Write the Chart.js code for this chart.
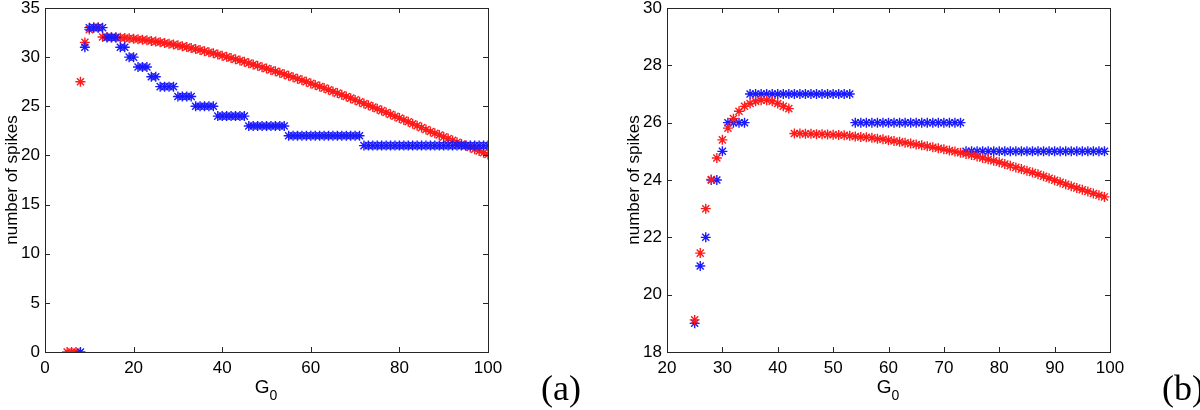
<!DOCTYPE html>
<html>
<head>
<meta charset="utf-8">
<script src="https://cdn.jsdelivr.net/npm/chart.js@4.4.1/dist/chart.umd.min.js"></script>
<style>
  body { margin: 0; background: #fff; width: 1200px; height: 410px; overflow: hidden; position: relative; }
  .panel { position: absolute; top: 0; }
  .tag { position: absolute; top: 370px; font-family: "Liberation Serif", "DejaVu Serif", serif; font-size: 36px; line-height: 36px; color: #000; }
</style>
</head>
<body>
<canvas id="left-chart" class="panel" style="left:0px" width="600" height="410"></canvas>
<canvas id="right-chart" class="panel" style="left:600px" width="600" height="410"></canvas>
<div class="tag" style="left:541px">(a)</div>
<div class="tag" style="left:1162px">(b)</div>
<script>
// panel (a)
var leftG0 = [5, 6, 7, 8, 9, 10, 11, 12, 13, 14,
  15, 16, 17, 18, 19, 20, 21, 22, 23, 24,
  25, 26, 27, 28, 29, 30, 31, 32, 33, 34,
  35, 36, 37, 38, 39, 40, 41, 42, 43, 44,
  45, 46, 47, 48, 49, 50, 51, 52, 53, 54,
  55, 56, 57, 58, 59, 60, 61, 62, 63, 64,
  65, 66, 67, 68, 69, 70, 71, 72, 73, 74,
  75, 76, 77, 78, 79, 80, 81, 82, 83, 84,
  85, 86, 87, 88, 89, 90, 91, 92, 93, 94,
  95, 96, 97, 98, 99, 100];
var leftBlue = [null, null, null, 0, 31, 33, 33, 33, 33, 32,
  32, 32, 31, 31, 30, 30, 29, 29, 29, 28,
  28, 27, 27, 27, 27, 26, 26, 26, 26, 25,
  25, 25, 25, 25, 24, 24, 24, 24, 24, 24,
  24, 23, 23, 23, 23, 23, 23, 23, 23, 23,
  22, 22, 22, 22, 22, 22, 22, 22, 22, 22,
  22, 22, 22, 22, 22, 22, 22, 21, 21, 21,
  21, 21, 21, 21, 21, 21, 21, 21, 21, 21,
  21, 21, 21, 21, 21, 21, 21, 21, 21, 21,
  21, 21, 21, 21, 21, 21];
var leftRed = [0, 0, 0, 27.5, 31.5, 32.8, 33.05, 33.05, 32.05, 32.05,
  32.03, 32.01, 31.98, 31.95, 31.91, 31.87, 31.82, 31.77, 31.71, 31.65,
  31.58, 31.51, 31.44, 31.36, 31.28, 31.2, 31.11, 31.02, 30.92, 30.82,
  30.72, 30.61, 30.5, 30.39, 30.27, 30.15, 30.03, 29.91, 29.78, 29.65,
  29.52, 29.39, 29.26, 29.12, 28.98, 28.84, 28.7, 28.56, 28.41, 28.26,
  28.11, 27.96, 27.81, 27.65, 27.49, 27.33, 27.17, 27.01, 26.85, 26.68,
  26.51, 26.34, 26.17, 26.0, 25.83, 25.65, 25.47, 25.29, 25.11, 24.93,
  24.75, 24.56, 24.37, 24.18, 23.99, 23.8, 23.61, 23.42, 23.23, 23.03,
  22.83, 22.63, 22.43, 22.25, 22.07, 21.89, 21.71, 21.53, 21.35, 21.17,
  20.99, 20.81, 20.63, 20.45, 20.27, 20.09];

// panel (b)
var rightG0 = [25, 26, 27, 28, 29, 30, 31, 32, 33, 34,
  35, 36, 37, 38, 39, 40, 41, 42, 43, 44,
  45, 46, 47, 48, 49, 50, 51, 52, 53, 54,
  55, 56, 57, 58, 59, 60, 61, 62, 63, 64,
  65, 66, 67, 68, 69, 70, 71, 72, 73, 74,
  75, 76, 77, 78, 79, 80, 81, 82, 83, 84,
  85, 86, 87, 88, 89, 90, 91, 92, 93, 94,
  95, 96, 97, 98, 99];
var rightBlue = [19, 21, 22, 24, 24, 25, 26, 26, 26, 26,
  27, 27, 27, 27, 27, 27, 27, 27, 27, 27,
  27, 27, 27, 27, 27, 27, 27, 27, 27, 26,
  26, 26, 26, 26, 26, 26, 26, 26, 26, 26,
  26, 26, 26, 26, 26, 26, 26, 26, 26, 25,
  25, 25, 25, 25, 25, 25, 25, 25, 25, 25,
  25, 25, 25, 25, 25, 25, 25, 25, 25, 25,
  25, 25, 25, 25, 25];
var rightRed = [19.12, 21.45, 23.0, 24.02, 24.77, 25.4, 25.81, 26.14, 26.4, 26.57,
  26.67, 26.75, 26.78, 26.78, 26.75, 26.67, 26.57, 26.49, 25.62, 25.62,
  25.61, 25.61, 25.6, 25.6, 25.59, 25.58, 25.57, 25.56, 25.54, 25.52,
  25.5, 25.49, 25.47, 25.44, 25.42, 25.39, 25.36, 25.33, 25.3, 25.27,
  25.24, 25.21, 25.18, 25.14, 25.11, 25.07, 25.03, 24.99, 24.95, 24.91,
  24.87, 24.82, 24.77, 24.72, 24.67, 24.62, 24.56, 24.5, 24.44, 24.38,
  24.32, 24.26, 24.2, 24.13, 24.06, 23.99, 23.92, 23.85, 23.78, 23.72,
  23.66, 23.6, 23.53, 23.47, 23.41];

var yTitle = 'number of spikes';
var xTitleMain = 'G';
var xTitleSub = '0';

var FONT = '"Liberation Sans", Arial, sans-serif';

function points(xs, ys) {
    return xs.map(function (x, i) { return { x: x, y: ys[i] }; });
}

// matlab style box, inward ticks and the G_0 label
var matlabBox = {
    id: 'matlabBox',
    afterDraw: function (chart) {
        var ctx = chart.ctx, a = chart.chartArea;
        var xs = chart.scales.x, ys = chart.scales.y;
        ctx.save();
        ctx.strokeStyle = '#262626';
        ctx.lineWidth = 1;
        ctx.beginPath();
        xs.ticks.forEach(function (t) {
            var px = Math.round(xs.getPixelForValue(t.value)) + 0.5;
            ctx.moveTo(px, a.bottom); ctx.lineTo(px, a.bottom - 5);
            ctx.moveTo(px, a.top); ctx.lineTo(px, a.top + 5);
        });
        ys.ticks.forEach(function (t) {
            var py = Math.round(ys.getPixelForValue(t.value)) + 0.5;
            ctx.moveTo(a.left, py); ctx.lineTo(a.left + 5, py);
            ctx.moveTo(a.right, py); ctx.lineTo(a.right - 5, py);
        });
        ctx.stroke();
        ctx.strokeRect(Math.round(a.left) + 0.5, Math.round(a.top) + 0.5,
            Math.round(a.right - a.left), Math.round(a.bottom - a.top));

        var cx = (a.left + a.right) / 2 + 3;
        ctx.fillStyle = '#000';
        ctx.textBaseline = 'alphabetic';
        ctx.font = '19px ' + FONT;
        ctx.textAlign = 'right';
        ctx.fillText(xTitleMain, cx, 393);
        ctx.font = '14px ' + FONT;
        ctx.textAlign = 'left';
        ctx.fillText(xTitleSub, cx, 400);
        ctx.restore();
    }
};

function makeChart(id, padLeft, padRight, xMin, xMax, xStep, yMin, yMax, yStep, datasets) {
    var ctx = document.getElementById(id).getContext('2d');
    return new Chart(ctx, {
        type: 'scatter',
        data: { datasets: datasets },
        plugins: [matlabBox],
        options: {
            responsive: false,
            animation: false,
            devicePixelRatio: 1,
            events: [],
            layout: { padding: { left: padLeft, right: padRight, top: 8, bottom: 0 } },
            plugins: { legend: { display: false }, tooltip: { enabled: false } },
            scales: {
                x: {
                    type: 'linear',
                    min: xMin,
                    max: xMax,
                    grid: { display: false, drawTicks: false },
                    border: { display: false },
                    ticks: {
                        stepSize: xStep,
                        autoSkip: false,
                        maxRotation: 0,
                        padding: 6,
                        color: '#000',
                        font: { family: FONT, size: 17 }
                    },
                    afterFit: function (s) { s.height = 58; s.paddingLeft = 0; s.paddingRight = 0; }
                },
                y: {
                    type: 'linear',
                    min: yMin,
                    max: yMax,
                    grid: { display: false, drawTicks: false },
                    border: { display: false },
                    ticks: {
                        stepSize: yStep,
                        autoSkip: false,
                        padding: 5,
                        color: '#000',
                        font: { family: FONT, size: 17 }
                    },
                    title: {
                        display: true,
                        text: yTitle,
                        color: '#000',
                        padding: { top: 2, bottom: 0 },
                        font: { family: FONT, size: 17 }
                    },
                    afterFit: function (s) { s.width = 45; s.paddingTop = 0; s.paddingBottom = 0; }
                }
            }
        }
    });
}

var starStyle = { pointStyle: 'star', pointRadius: 5, borderWidth: 1.4, showLine: false };

// (a): blue drawn on top
makeChart('left-chart', 0, 112, 0, 100, 20, 0, 35, 5, [
    Object.assign({ label: 'blue', data: points(leftG0, leftBlue), borderColor: '#1a1aff', backgroundColor: '#1a1aff' }, starStyle),
    Object.assign({ label: 'red', data: points(leftG0, leftRed), borderColor: '#ff1a1a', backgroundColor: '#ff1a1a' }, starStyle)
]);

// (b): red drawn on top
makeChart('right-chart', 22, 90, 20, 100, 10, 18, 30, 2, [
    Object.assign({ label: 'red', data: points(rightG0, rightRed), borderColor: '#ff1a1a', backgroundColor: '#ff1a1a' }, starStyle),
    Object.assign({ label: 'blue', data: points(rightG0, rightBlue), borderColor: '#1a1aff', backgroundColor: '#1a1aff' }, starStyle)
]);
</script>
</body>
</html>
